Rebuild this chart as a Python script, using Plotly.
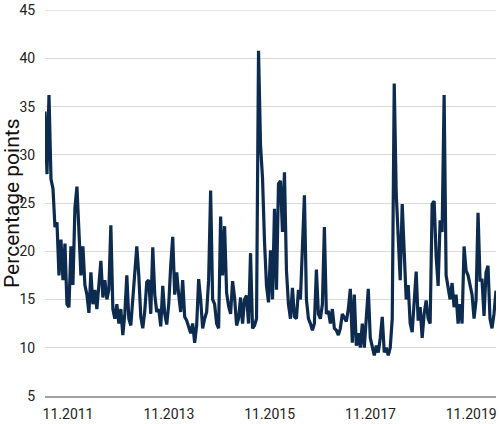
import pandas as pd
import plotly.graph_objects as go

# Values (roughly every two weeks)
values_a = [34.5, 28.0, 36.2, 27.5, 26.5, 22.5, 23.0, 17.5, 21.2, 17.0, 20.8, 14.5,
            14.2, 20.5, 16.5, 24.5, 26.7, 22.5, 17.5, 20.5, 16.5, 15.5, 13.6, 17.8,
            14.5, 16.0, 14.0, 16.5, 19.0, 15.2, 17.0, 15.0, 16.0, 22.7, 14.0, 13.0,
            14.5, 12.5, 14.0, 11.3, 13.5, 17.5, 13.0, 12.3, 15.0, 17.0, 20.5]
values_b = [17.5, 13.2, 12.0, 13.8, 16.8, 17.0, 13.5, 20.4, 15.5, 13.7, 14.0, 12.2,
            16.4, 13.5, 12.4, 14.5, 18.5, 21.5, 15.5, 17.8, 15.5, 13.7, 17.0, 13.2,
            12.8, 12.2, 11.5, 12.5, 10.5, 12.3, 17.1, 15.0, 12.0, 13.0, 13.7, 17.0,
            26.3, 15.0, 14.5, 12.5, 12.0, 23.6, 17.5, 22.6]
values_c = [15.7, 14.3, 13.5, 16.9, 15.2, 12.3, 13.0, 15.2, 12.5, 15.0, 15.4, 12.5,
            19.8, 12.0, 12.3, 13.0, 40.8, 31.0, 27.6, 21.0, 16.4, 14.7, 20.1, 15.0,
            24.4, 16.0, 27.0, 27.3, 22.0, 28.2, 18.0, 14.5, 13.0, 16.2, 13.2, 13.0,
            16.0, 15.0, 20.8, 25.8, 15.0, 13.0, 12.5, 11.8, 12.5]
values_d = [18.1, 13.5, 13.0, 14.5, 22.5, 13.5, 13.8, 12.5, 14.0, 12.0, 11.8, 11.3,
            12.0, 13.5, 13.0, 12.7, 14.0, 16.1, 10.5, 15.5, 10.2, 11.5, 10.0, 12.5,
            10.0, 13.0, 16.1, 11.0, 10.0, 9.2, 10.2, 9.5, 11.0, 13.2, 9.5, 10.0,
            9.2, 10.0, 13.0, 37.4, 26.0, 20.5, 17.0, 24.9, 19.0]
values_e = [15.0, 16.5, 12.5, 11.6, 15.0, 17.9, 12.8, 14.2, 11.0, 13.5, 14.9, 13.0,
            12.5, 24.9, 25.2, 19.5, 16.4, 23.2, 22.0, 36.2, 17.5, 16.4, 15.0, 16.7,
            14.2, 15.5, 12.5, 14.5, 12.5, 20.5, 18.0, 17.5, 16.4, 15.5, 13.0, 14.9,
            24.0, 17.0, 17.0, 13.3, 17.8, 18.5, 13.0, 12.0, 13.5, 15.9]

values = values_a + values_b + values_c + values_d + values_e
dates = pd.date_range("2011-05-18", "2020-04-29", periods=len(values))

tick_dates = ["2011-11-01", "2013-11-01", "2015-11-01", "2017-11-01", "2019-11-01"]
tick_labels = ["11.2011", "11.2013", "11.2015", "11.2017", "11.2019"]
y_ticks = [5, 10, 15, 20, 25, 30, 35, 40, 45]
y_top = 45

fig = go.Figure()
fig.add_trace(go.Scatter(
    x=dates, y=values, mode="lines",
    line=dict(color="#0d2b4e", width=3.2),
    hoverinfo="skip",
))

fig.update_layout(
    width=499, height=424,
    margin=dict(l=45, r=2, t=8, b=26),
    paper_bgcolor="white", plot_bgcolor="white",
    showlegend=False,
    font=dict(family="Roboto", size=14, color="#222"),
    xaxis=dict(
        range=[dates[0], dates[-1]],
        tickvals=tick_dates, ticktext=tick_labels,
        showgrid=False, zeroline=False,
        showline=True, linecolor="#a0a0a0", linewidth=2,
        ticks="outside", ticklen=4, tickcolor="rgba(0,0,0,0)",
        tickfont=dict(size=14, color="#222"),
    ),
    yaxis=dict(
        range=[4.98, 45.03], tickvals=y_ticks,
        showgrid=True, gridcolor="#dcdcdc", gridwidth=1,
        zeroline=False, showline=False,
        ticks="outside", ticklen=6, tickcolor="rgba(0,0,0,0)",
        tickfont=dict(size=14, color="#222"),
    ),
    shapes=[dict(
        type="line", xref="paper", yref="y", x0=0, x1=1, y0=y_top, y1=y_top,
        line=dict(color="#dcdcdc", width=1), layer="below",
    )],
    annotations=[dict(
        text="Percentage points", textangle=-90,
        xref="paper", yref="paper", x=0, y=0.5,
        xanchor="center", yanchor="middle", xshift=-33,
        showarrow=False, font=dict(family="Roboto", size=21, color="#111"),
    )],
)

fig.write_html(
    "out.html",
    config={"displayModeBar": False, "staticPlot": True},
    post_script="document.body.style.margin='0';document.body.style.overflow='hidden';",
)
